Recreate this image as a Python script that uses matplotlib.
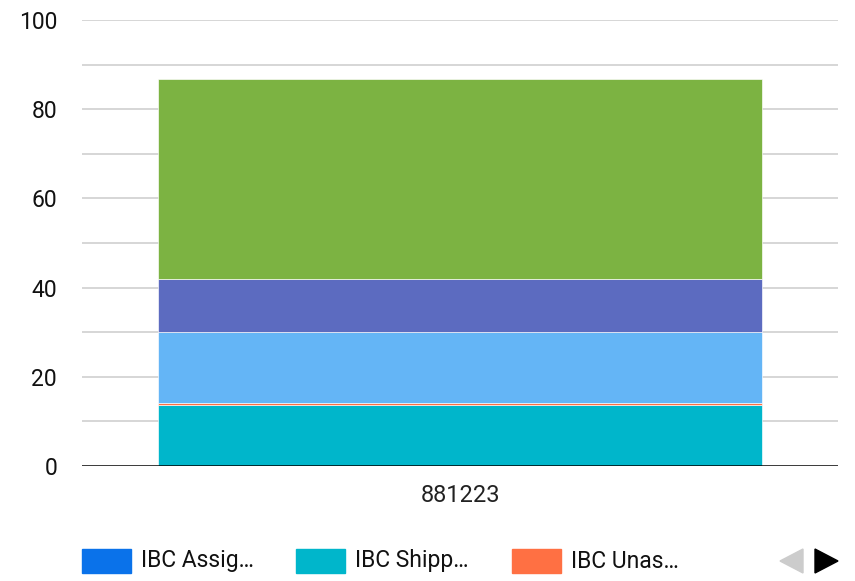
import matplotlib

matplotlib.use("Agg")

import matplotlib.pyplot as plt  # noqa: E402
from matplotlib.patches import Polygon, Rectangle  # noqa: E402

plt.rcParams["font.family"] = ["Roboto", "DejaVu Sans"]

# ---------- Data ----------

CATEGORIES = ["881223"]
SERIES = ["IBC Assig…", "IBC Shipp…", "IBC Unas…", "series 4", "series 5", "series 6"]
COLORS = ["#0a72ea", "#00b6cb", "#ff7043", "#64b5f6", "#5c6bc0", "#7cb342"]
# one value per series, bottom to top
VALUES = [0.0, 13.7, 0.4, 15.9, 12.0, 44.8]
LEGEND_SHOWN = 3  # first page of the legend only

Y_TICKS = [0, 20, 40, 60, 80, 100]
Y_GRID = [10, 20, 30, 40, 50, 60, 70, 80, 90, 100]

# ---------- Figure ----------

W, H = 855, 581
fig = plt.figure(figsize=(W / 100, H / 100), dpi=100)
ax = fig.add_axes([82 / W, 1 - 466 / H, (838 - 82) / W, (466 - 20) / H])

bottom = 0.0
for name, color, val in zip(SERIES, COLORS, VALUES):
    if val > 0:
        ax.bar(CATEGORIES, [val], bottom=[bottom], width=0.8, color=color,
               edgecolor="white", linewidth=0.45, zorder=3)
    bottom += val

for g in Y_GRID:
    ax.axhline(g, color="#cccccc", linewidth=1.1, zorder=1)
ax.axhline(0, color="black", linewidth=1.8, zorder=4)

ax.set_xlim(-0.5, 0.5)
ax.set_ylim(0, 100)
ax.set_yticks(Y_TICKS)
ax.tick_params(axis="y", length=0, pad=18, labelsize=16.5, labelcolor="#111111")
ax.tick_params(axis="x", length=0, pad=13, labelsize=17, labelcolor="#222222")
for s in ax.spines.values():
    s.set_visible(False)

# ---------- Legend (first page) ----------

box_x = [82, 296, 512]
for i in range(LEGEND_SHOWN):
    fig.add_artist(Rectangle((box_x[i] / W, 1 - 573 / H), 49 / W, 24 / H,
                             transform=fig.transFigure, color=COLORS[i]))
    fig.text((box_x[i] + 59) / W, 1 - 561 / H, SERIES[i], fontsize=16.5,
             color="#111111", va="center", ha="left")

# pager arrows
fig.add_artist(Polygon([[803 / W, 1 - 549 / H], [803 / W, 1 - 573 / H], [780 / W, 1 - 561 / H]],
                       closed=True, transform=fig.transFigure, color="#cccccc"))
fig.add_artist(Polygon([[815 / W, 1 - 549 / H], [815 / W, 1 - 573 / H], [838 / W, 1 - 561 / H]],
                       closed=True, transform=fig.transFigure, color="black"))

fig.savefig("out.png", dpi=100)
plt.close(fig)
